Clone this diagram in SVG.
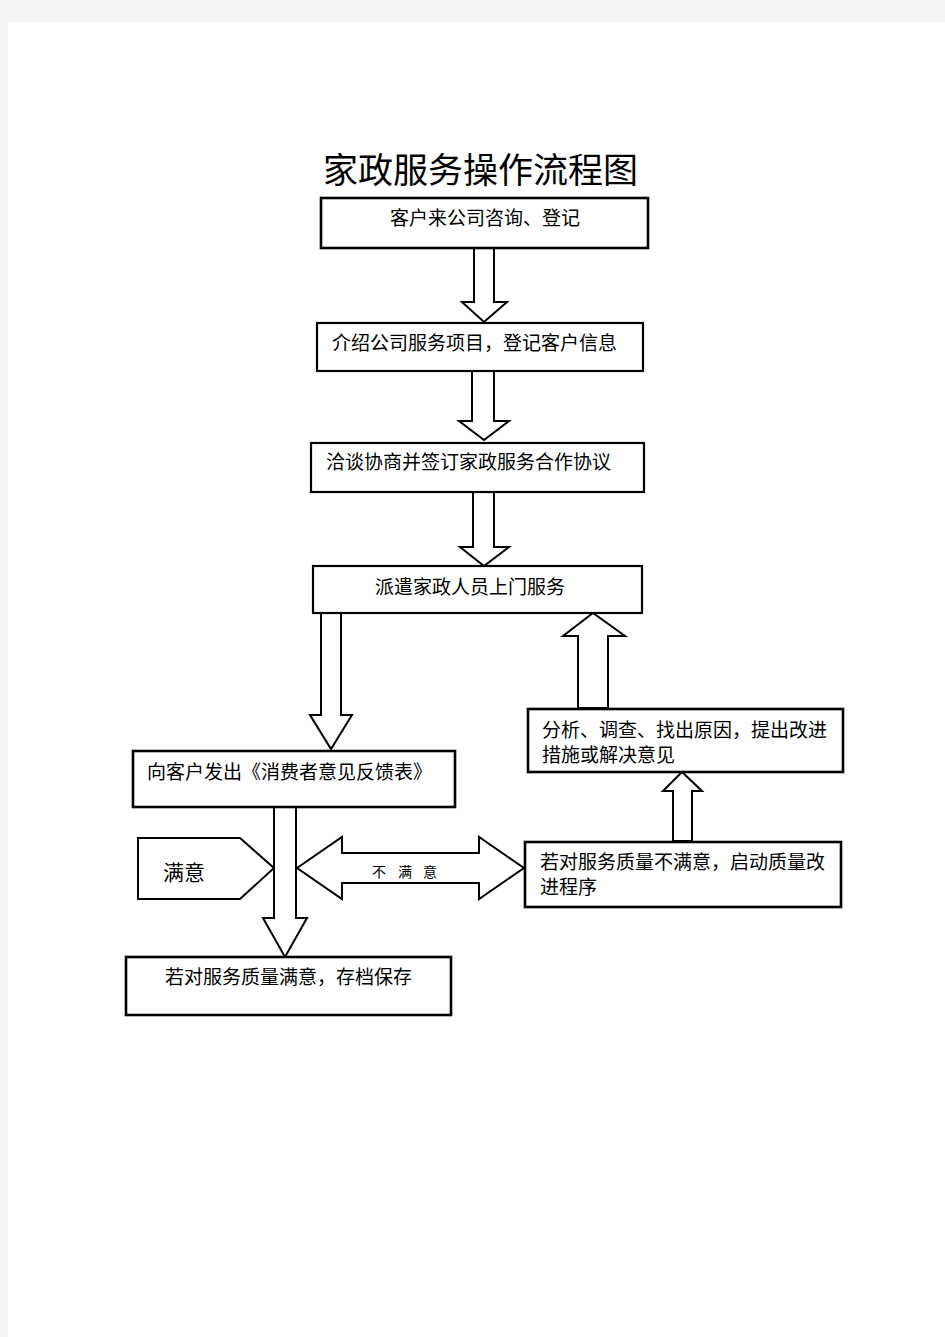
<svg xmlns="http://www.w3.org/2000/svg" width="945" height="1337" viewBox="0 0 945 1337">
<style>
.box{fill:#fff;stroke:#000;stroke-width:2.2}
.arr{fill:#fff;stroke:#000;stroke-width:2;stroke-linejoin:miter}
.t{font-family:"Noto Sans CJK SC","Noto Sans CJK JP",sans-serif;font-size:19px;fill:#000}
.title{font-family:"Noto Sans CJK SC","Noto Sans CJK JP",sans-serif;font-size:35px;fill:#000}
.s{font-family:"Noto Sans CJK SC","Noto Sans CJK JP",sans-serif;font-size:14px;fill:#000}
</style>
<rect x="0" y="0" width="945" height="1337" fill="#f4f4f4"/>
<rect x="8" y="22" width="937" height="1315" fill="#fff"/>
<text class="title" x="323" y="183">家政服务操作流程图</text>

<g id="connectors">
<polygon class="arr" points="474,248 494,248 494,302 507,302 484,322 462,302 474,302"/>
<polygon class="arr" points="472,371 494,371 494,421 509,421 484,440 459,421 472,421"/>
<polygon class="arr" points="473,492 494,492 494,547 509,547 484,566 460,547 473,547"/>
<polygon class="arr" points="321,613 341,613 341,715 352,715 331,749 310,715 321,715"/>
<polygon class="arr" points="578,708 608,708 608,636 625,636 593,613 563,636 578,636"/>
<polygon class="arr" points="673,841 692,841 692,791 702,791 682,772 663,791 673,791"/>
<polygon class="arr" points="274,807 296,807 296,918 307,918 285,957 263,918 274,918"/>
<polygon class="arr" points="297,868 342,837 342,853 479,853 479,837 524,868 479,899 479,883 342,883 342,899"/>
<text class="s" x="372" y="877">不</text>
<text class="s" x="398" y="877">满</text>
<text class="s" x="423" y="877">意</text>
</g>

<g id="n1"><rect class="box" x="321" y="198" width="327" height="50" style="stroke-width:2.6"/><text class="t" x="390" y="225">客户来公司咨询、登记</text></g>
<g id="n2"><rect class="box" x="317" y="323" width="326" height="48"/><text class="t" x="332" y="350">介绍公司服务项目，登记客户信息</text></g>
<g id="n3"><rect class="box" x="311" y="443" width="333" height="49"/><text class="t" x="326" y="469">洽谈协商并签订家政服务合作协议</text></g>
<g id="n4"><rect class="box" x="313" y="566" width="329" height="47"/><text class="t" x="375" y="594">派遣家政人员上门服务</text></g>
<g id="n5"><rect class="box" x="133" y="751" width="322" height="56" style="stroke-width:2.6"/><text class="t" x="147" y="779">向客户发出《消费者意见反馈表》</text></g>
<g id="n6"><rect class="box" x="528" y="709" width="315" height="63" style="stroke-width:2.6"/><text class="t" x="542" y="737">分析、调查、找出原因，提出改进</text><text class="t" x="542" y="762">措施或解决意见</text></g>
<g id="n7"><rect class="box" x="525" y="842" width="316" height="65" style="stroke-width:2.6"/><text class="t" x="540" y="869">若对服务质量不满意，启动质量改</text><text class="t" x="540" y="894">进程序</text></g>
<g id="n8"><rect class="box" x="126" y="957" width="325" height="58" style="stroke-width:2.6"/><text class="t" x="165" y="984">若对服务质量满意，存档保存</text></g>
<g id="satisfied"><polygon class="arr" points="138,838 240,838 274,868 240,899 138,899"/><text class="t" x="163" y="880" style="font-size:21px">满意</text></g>
</svg>
